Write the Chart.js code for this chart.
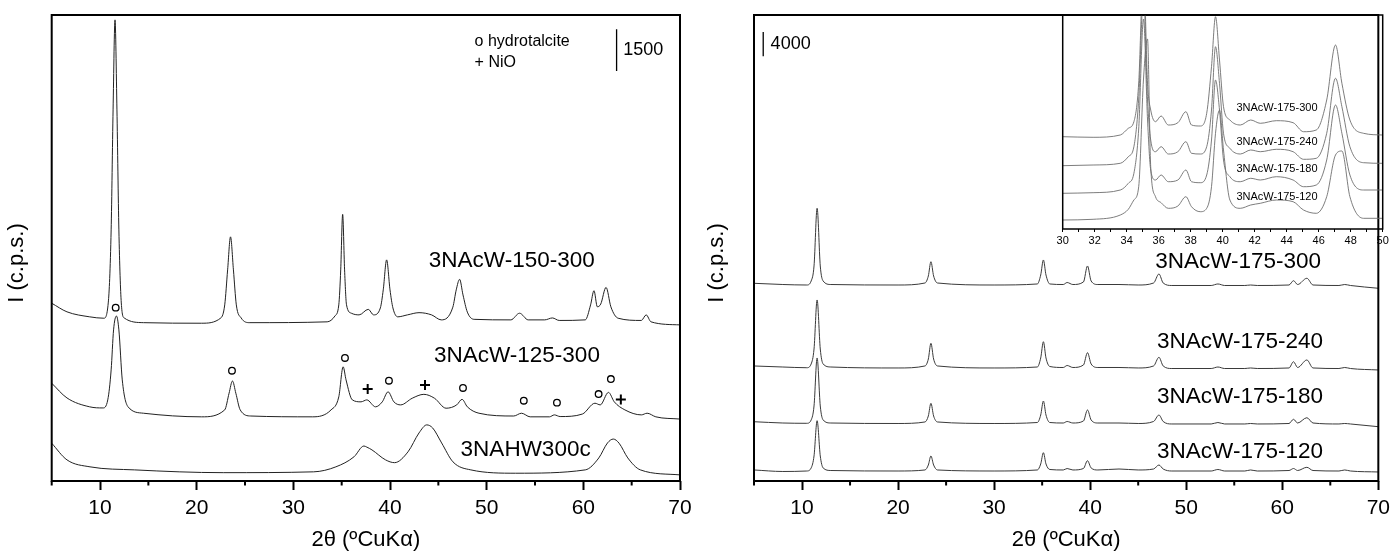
<!DOCTYPE html>
<html>
<head>
<meta charset="utf-8">
<script src="https://cdn.jsdelivr.net/npm/chart.js@4.4.1/dist/chart.umd.min.js"></script>
<style>
  html, body { margin: 0; padding: 0; background: #fff; }
  #wrap { position: relative; width: 1396px; height: 555px; overflow: hidden; background: #fff; }
  .panel { position: absolute; top: 0; }
  canvas { display: block; }
</style>
</head>
<body>
<div id="wrap">
  <div class="panel" style="left:0px"><canvas id="chartLeft" width="700" height="555"></canvas></div>
  <div class="panel" style="left:700px"><canvas id="chartRight" width="696" height="555"></canvas></div>
  <div class="panel" style="left:1040px"><canvas id="chartInset" width="356" height="255"></canvas></div>
</div>
<script>
const FONT = '"Liberation Sans", Arial, Helvetica, sans-serif';

// ---- left panel: 3NAcW-150-300, 3NAcW-125-300, 3NAHW300c (stacked, c.p.s.)
const theta150 = [5, 6.58, 8.93, 10.4, 10.85, 11.15, 11.35, 11.55, 11.75, 11.95, 12.2, 12.5, 14.5, 20.5, 22.5, 22.9, 23.2, 23.5, 23.8, 24.1, 24.6, 25.5, 33.5, 34.3, 34.7, 34.9, 35.1, 35.3, 35.5, 36.0, 36.8, 37.75, 38.3, 39.0, 39.3, 39.65, 40.0, 40.3, 40.8, 41.8, 43.0, 44.3, 45.3, 46.5, 46.85, 47.2, 47.55, 48.0, 48.7, 52.5, 53.4, 54.3, 56.0, 56.8, 57.5, 60.2, 60.75, 61.1, 61.45, 61.8, 62.35, 62.85, 63.6, 66.0, 66.5, 67.0, 70];
const cps150 = [6400, 6090, 5910, 5860, 6410, 9040, 13360, 16600, 13360, 9040, 6410, 5870, 5700, 5680, 5870, 6340, 7600, 8790, 7600, 6340, 5870, 5700, 5730, 5940, 6340, 7600, 9600, 7600, 6340, 6040, 5980, 6180, 5980, 6230, 6880, 7960, 6880, 6230, 5910, 5980, 6060, 5980, 5800, 6260, 6880, 7260, 6700, 6080, 5820, 5800, 6040, 5800, 5800, 5870, 5780, 5800, 6340, 6850, 6270, 6370, 6970, 6270, 5860, 5780, 5980, 5730, 5620];

const theta125 = [5, 6.58, 8.93, 10.3, 10.8, 11.15, 11.4, 11.7, 11.95, 12.3, 12.9, 14.5, 20.5, 22.9, 23.35, 23.7, 24.05, 24.5, 25.6, 32.0, 33.9, 34.7, 35.15, 35.45, 36.1, 37.0, 37.6, 38.5, 39.2, 39.8, 40.4, 41.1, 42.3, 43.5, 44.6, 45.8, 46.9, 47.45, 48.0, 49.2, 52.8, 53.6, 54.5, 56.5, 57.0, 57.6, 59.9, 61.2, 61.75, 62.6, 63.2, 64.3, 66.0, 66.6, 67.5, 70];
const cps125 = [3520, 2990, 2670, 2630, 2920, 4000, 5440, 5940, 5440, 3640, 2670, 2440, 2310, 2560, 3160, 3600, 3160, 2560, 2340, 2310, 2560, 3030, 4110, 3640, 2920, 2850, 2920, 2670, 2850, 3210, 2850, 2740, 2980, 3120, 2980, 2620, 2740, 2940, 2670, 2440, 2340, 2440, 2310, 2310, 2380, 2320, 2410, 2800, 2740, 3190, 2850, 2560, 2380, 2440, 2310, 2230];

const thetaHW = [5, 6.58, 8.96, 13.57, 22.8, 32.1, 34.4, 36.27, 37.3, 37.6, 38.13, 39.54, 40.47, 41.86, 43.0, 43.8, 44.41, 45.34, 46.51, 48.36, 53.0, 60.2, 61.6, 62.5, 63.1, 63.7, 64.6, 65.9, 70];
const cpsHW = [1360, 760, 510, 400, 300, 330, 510, 870, 1260, 1220, 1120, 760, 660, 1050, 1730, 2020, 1910, 1370, 690, 400, 280, 400, 830, 1370, 1510, 1360, 830, 400, 220];

// phase markers on 3NAcW-125-300
const hydrotalciteTheta = [11.62, 23.65, 35.34, 39.89, 47.55, 53.84, 57.27, 61.58, 62.85];
const hydrotalciteCps = [6240, 3970, 4430, 3610, 3350, 2890, 2820, 3130, 3670];
const nioTheta = [37.69, 43.62, 63.88];
const nioCps = [3310, 3460, 2930];

const leftSamples = ['3NAcW-150-300', '3NAcW-125-300', '3NAHW300c'];
const leftBar = 1500;

// ---- right panel: 3NAcW-175-xxx series
const thetaR = [5, 8, 10.5, 10.95, 11.25, 11.57, 11.9, 12.2, 13, 20, 22.8, 23.15, 23.42, 23.7, 24.1, 30, 34.5, 34.85, 35.13, 35.4, 35.8, 37.2, 37.6, 38.2, 39.3, 39.72, 40.1, 40.8, 43, 45, 46.6, 47.16, 47.6, 48.5, 52.6, 53.3, 54, 56.1, 56.7, 57.4, 60.7, 61.17, 61.6, 62.56, 63.2, 65.9, 66.5, 67.1, 70];
const cps175_120 = [1820, 1570, 1650, 2150, 4130, 9950, 4130, 2150, 1730, 1650, 1820, 2640, 4130, 2640, 1820, 1650, 1820, 2810, 4670, 2810, 1900, 1820, 2060, 1820, 2060, 3350, 2150, 1820, 1980, 1820, 1980, 2640, 1980, 1650, 1650, 1900, 1650, 1650, 1820, 1650, 1730, 2060, 1730, 2260, 1730, 1650, 1820, 1650, 1490];
const cps175_180 = [9780, 9570, 9520, 10070, 12380, 20300, 12380, 10070, 9570, 9490, 9740, 10730, 12820, 10730, 9740, 9490, 9650, 10890, 13200, 10890, 9650, 9570, 9820, 9570, 9900, 11720, 10070, 9570, 9570, 9490, 9820, 10890, 9820, 9410, 9410, 9650, 9410, 9410, 9490, 9410, 9490, 10180, 9570, 10440, 9570, 9410, 9490, 9410, 8960];
const cps175_240 = [18980, 18810, 18690, 19310, 21780, 29870, 21780, 19310, 18810, 18650, 18980, 20130, 22720, 20130, 18980, 18650, 18810, 20300, 22980, 20300, 18890, 18730, 19060, 18730, 19140, 21170, 19310, 18730, 18730, 18650, 18980, 20410, 18980, 18560, 18560, 18810, 18560, 18560, 18650, 18560, 18650, 19680, 18730, 19970, 18650, 18560, 18730, 18560, 18320];
const cps175_300 = [32620, 32420, 32340, 33000, 35480, 45000, 35480, 33000, 32420, 32340, 32670, 33830, 36180, 33830, 32670, 32340, 32510, 33990, 36470, 33990, 32510, 32420, 32750, 32420, 32840, 35480, 33000, 32420, 32420, 32340, 32670, 34160, 32670, 32260, 32260, 32510, 32260, 32260, 32340, 32260, 32340, 33050, 32420, 33450, 32340, 32260, 32420, 32260, 31800];

const rightSamples = ['3NAcW-175-300', '3NAcW-175-240', '3NAcW-175-180', '3NAcW-175-120'];
const rightBar = 4000;

// ---- inset: 30-50 deg detail, arbitrary units
const thetaIn = [30, 31.9, 33.6, 34.1, 34.45, 34.75, 35.05, 35.3, 35.5, 35.8, 36.15, 36.6, 37.2, 37.7, 38.05, 38.6, 39.0, 39.3, 39.55, 39.8, 40.05, 40.45, 41.1, 41.75, 42.35, 43.35, 44.4, 45.05, 45.85, 46.5, 47.05, 47.45, 47.95, 48.8, 50];
const in300 = [923, 917, 940, 1007, 1073, 1460, 2600, 1460, 1190, 1073, 1130, 1040, 1063, 1173, 1040, 1030, 1157, 1623, 2123, 1690, 1223, 1090, 1040, 1090, 1057, 1083, 1063, 973, 990, 1290, 1840, 1457, 1090, 957, 940];
const in240 = [633, 640, 657, 723, 823, 1300, 2350, 1300, 890, 773, 823, 750, 773, 873, 757, 750, 823, 1190, 1823, 1457, 957, 807, 750, 790, 773, 797, 773, 697, 707, 957, 1507, 1223, 823, 663, 657];
const in180 = [357, 363, 390, 457, 557, 1000, 2100, 1100, 590, 490, 540, 473, 490, 590, 473, 463, 540, 890, 1490, 1190, 690, 523, 473, 507, 490, 523, 490, 423, 440, 690, 1240, 957, 540, 390, 390];
const in120 = [90, 97, 140, 197, 290, 423, 1500, 1900, 623, 323, 263, 207, 230, 323, 223, 173, 207, 423, 957, 1190, 790, 290, 207, 240, 257, 290, 273, 190, 157, 323, 740, 780, 323, 107, 107];

function pts(xs, ys) {
  return xs.map((x, i) => ({ x: x, y: ys[i] }));
}

function trace(xs, ys, color, width) {
  return {
    data: pts(xs, ys),
    borderColor: color,
    borderWidth: width,
    pointRadius: 0,
    cubicInterpolationMode: 'monotone',
    fill: false
  };
}

function bar(x, y0, len) {
  return {
    data: pts([x, x], [y0, y0 + len]),
    borderColor: '#000',
    borderWidth: 1.3,
    pointRadius: 0,
    tension: 0
  };
}

// frame, minor ticks, free text and the rotated y title
const panelPlugin = {
  id: 'panel',
  afterDatasetsDraw(chart, args, opts) {
    const { ctx, chartArea: a, scales } = chart;
    ctx.save();
    ctx.strokeStyle = '#000';
    ctx.lineWidth = opts.frameWidth || 2;
    ctx.strokeRect(a.left, a.top, a.right - a.left, a.bottom - a.top);
    (opts.minorTicks || []).forEach((v) => {
      const px = scales.x.getPixelForValue(v);
      ctx.beginPath();
      ctx.moveTo(px, a.bottom);
      ctx.lineTo(px, a.bottom + opts.minorLength);
      ctx.stroke();
    });
    ctx.fillStyle = '#000';
    ctx.textBaseline = 'middle';
    (opts.texts || []).forEach((t) => {
      ctx.font = t.size + 'px ' + FONT;
      ctx.textAlign = t.align || 'center';
      ctx.fillText(t.text, scales.x.getPixelForValue(t.x), scales.y.getPixelForValue(t.y));
    });
    if (opts.yTitle) {
      ctx.translate(opts.yTitle.x, opts.yTitle.y);
      ctx.rotate(-Math.PI / 2);
      ctx.textAlign = 'center';
      ctx.font = opts.yTitle.size + 'px ' + FONT;
      ctx.fillText(opts.yTitle.text, 0, 0);
    }
    ctx.restore();
  }
};

function xMain() {
  return {
    type: 'linear',
    min: 5,
    max: 70,
    afterFit: (s) => { s.height = 74; },
    ticks: {
      stepSize: 5,
      autoSkip: false,
      maxRotation: 0,
      padding: 6,
      color: '#000',
      font: { family: FONT, size: 21 },
      callback: (v) => (v % 10 === 0 ? v : '')
    },
    grid: {
      drawOnChartArea: false,
      tickLength: 9,
      tickWidth: 2,
      tickColor: (c) => (c.tick && c.tick.value % 10 === 0 ? '#000' : 'rgba(0,0,0,0)')
    },
    border: { display: false },
    title: {
      display: true,
      text: '2θ (ºCuKα)',
      color: '#000',
      font: { family: FONT, size: 22 },
      padding: { top: 0, bottom: 2 }
    }
  };
}

const baseOpts = {
  responsive: false,
  animation: false,
  events: [],
  plugins: { legend: { display: false }, tooltip: { enabled: false } }
};

const minor = [5, 15, 25, 35, 45, 55, 65];

new Chart(document.getElementById('chartLeft'), {
  type: 'line',
  data: {
    datasets: [
      trace(theta150, cps150, '#222', 1),
      trace(theta125, cps125, '#222', 1),
      trace(thetaHW, cpsHW, '#222', 1),
      {
        data: pts(hydrotalciteTheta, hydrotalciteCps),
        showLine: false,
        pointStyle: 'circle',
        pointRadius: 3.3,
        pointBorderWidth: 1.3,
        pointBorderColor: '#000',
        pointBackgroundColor: 'rgba(0,0,0,0)'
      },
      {
        data: pts(nioTheta, nioCps),
        showLine: false,
        pointStyle: 'cross',
        pointRadius: 5,
        pointBorderWidth: 2,
        pointBorderColor: '#000'
      },
      bar(63.44, 14760, leftBar)
    ]
  },
  options: {
    ...baseOpts,
    layout: { padding: { left: 51.7, right: 20, top: 15, bottom: 0 } },
    scales: {
      x: xMain(),
      y: { display: false, min: 0, max: 16776 }
    },
    plugins: {
      ...baseOpts.plugins,
      panel: {
        frameWidth: 2,
        minorTicks: minor,
        minorLength: 4.5,
        yTitle: { text: 'I (c.p.s.)', x: 16.6, y: 263, size: 22 },
        texts: [
          { text: leftSamples[0], x: 52.6, y: 7920, size: 22.5 },
          { text: leftSamples[1], x: 53.13, y: 4510, size: 22.5 },
          { text: leftSamples[2], x: 54.03, y: 1120, size: 22.5 },
          { text: 'o hydrotalcite', x: 48.75, y: 15810, size: 16, align: 'left' },
          { text: '+ NiO', x: 48.75, y: 15060, size: 16, align: 'left' },
          { text: String(leftBar), x: 64.13, y: 15510, size: 18, align: 'left' }
        ]
      }
    }
  },
  plugins: [panelPlugin]
});

new Chart(document.getElementById('chartRight'), {
  type: 'line',
  data: {
    datasets: [
      trace(thetaR, cps175_300, '#3a3a3a', 1),
      trace(thetaR, cps175_240, '#3a3a3a', 1),
      trace(thetaR, cps175_180, '#3a3a3a', 1),
      trace(thetaR, cps175_120, '#3a3a3a', 1),
      bar(5.96, 70100, rightBar)
    ]
  },
  options: {
    ...baseOpts,
    layout: { padding: { left: 54, right: 13, top: 15, bottom: 0 } },
    scales: {
      x: xMain(),
      y: { display: false, min: 0, max: 76890 }
    },
    plugins: {
      ...baseOpts.plugins,
      panel: {
        frameWidth: 2,
        minorTicks: minor,
        minorLength: 4.5,
        yTitle: { text: 'I (c.p.s.)', x: 16.7, y: 263, size: 22 },
        texts: [
          { text: rightSamples[0], x: 55.4, y: 36180, size: 22.5 },
          { text: rightSamples[1], x: 55.6, y: 22980, size: 22.5 },
          { text: rightSamples[2], x: 55.6, y: 13910, size: 22.5 },
          { text: rightSamples[3], x: 55.6, y: 4830, size: 22.5 },
          { text: String(rightBar), x: 6.73, y: 72100, size: 18, align: 'left' }
        ]
      }
    }
  },
  plugins: [panelPlugin]
});

new Chart(document.getElementById('chartInset'), {
  type: 'line',
  data: {
    datasets: [
      trace(thetaIn, in300, '#6e6e6e', 0.9),
      trace(thetaIn, in240, '#6e6e6e', 0.9),
      trace(thetaIn, in180, '#6e6e6e', 0.9),
      trace(thetaIn, in120, '#6e6e6e', 0.9)
    ]
  },
  options: {
    ...baseOpts,
    layout: { padding: { left: 22.7, right: 13.3, top: 15, bottom: 0 } },
    scales: {
      x: {
        type: 'linear',
        min: 30,
        max: 50,
        afterFit: (s) => { s.height = 26; },
        ticks: {
          stepSize: 1,
          autoSkip: false,
          maxRotation: 0,
          padding: 2,
          color: '#000',
          font: { family: FONT, size: 11 },
          callback: (v) => (v % 2 === 0 ? v : '')
        },
        grid: { drawOnChartArea: false, tickLength: 3, tickWidth: 1, tickColor: '#000' },
        border: { display: false }
      },
      y: { display: false, min: 0, max: 2140 }
    },
    plugins: {
      ...baseOpts.plugins,
      panel: {
        frameWidth: 1.5,
        texts: [
          { text: rightSamples[0], x: 43.39, y: 1210, size: 11 },
          { text: rightSamples[1], x: 43.39, y: 873, size: 11 },
          { text: rightSamples[2], x: 43.39, y: 600, size: 11 },
          { text: rightSamples[3], x: 43.39, y: 323, size: 11 }
        ]
      }
    }
  },
  plugins: [panelPlugin]
});
</script>
</body>
</html>
